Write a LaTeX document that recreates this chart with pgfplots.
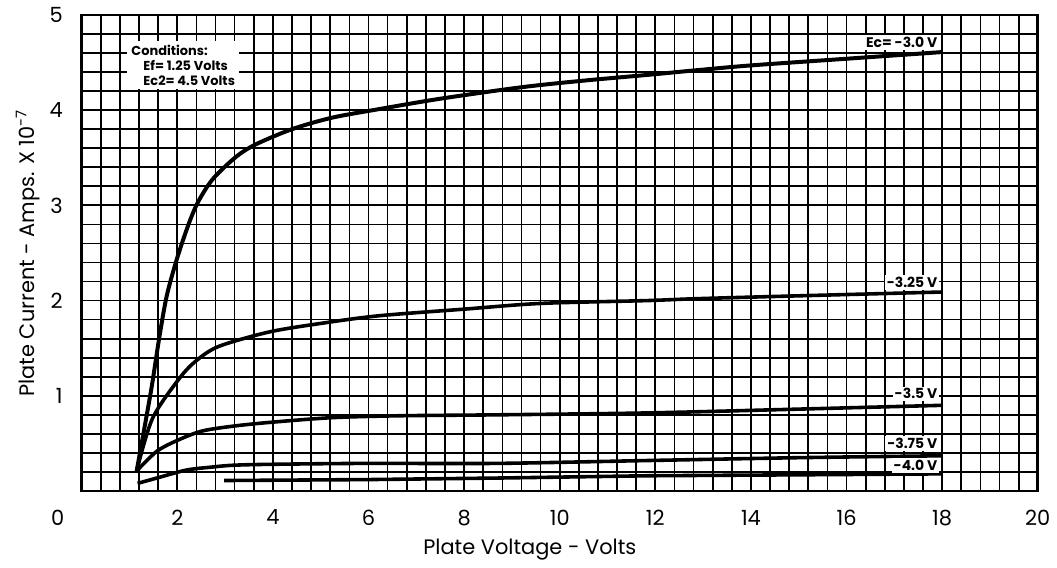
\documentclass[border=0pt]{standalone}
\usepackage{pgfplots}
\pgfplotsset{compat=1.18}
\usepackage{fontspec}
\setmainfont{Poppins}
\begin{document}
\begin{tikzpicture}
\begin{axis}[
  scale only axis, width=480pt, height=239pt,
  xmin=0, xmax=20, ymin=0, ymax=5,
  xtick={0,2,...,20}, xticklabels={,2,4,6,8,10,12,14,16,18,20},
  ytick={0,1,...,5}, yticklabels={,1,2,3,4,5},
  minor x tick num=4, minor y tick num=4,
  major tick length=0pt, minor tick length=0pt,
  grid=both,
  major grid style={black, line width=0.9pt},
  minor grid style={black, line width=0.85pt},
  axis line style={black, line width=1.3pt},
  tick label style={font=\fontsize{10.5}{12}\selectfont},
  xticklabel style={yshift=-6pt},
  yticklabel style={xshift=-6pt},
  /pgf/number format/assume math mode=true,
  xlabel={Plate Voltage - Volts},
  ylabel={Plate Current - Amps. X 10\textsuperscript{-7}},
  label style={font=\fontsize{10.5}{12}\selectfont},
  xlabel style={yshift=0pt, xshift=-15pt},
  ylabel style={yshift=-2pt},
  clip=false,
]
\addplot[black, line width=2pt, smooth, tension=0.5] coordinates {
 (1.15,0.21) (1.45,1.05) (1.62,1.6) (1.78,2.05) (2.0,2.45) (2.25,2.82) (2.45,3.05) (2.75,3.28) (3.23,3.51) (3.64,3.64) (4.4,3.80) (5.23,3.92) (6.21,4.01) (7.5,4.12) (9.19,4.24) (10.5,4.31) (11.83,4.37) (12.875,4.42) (14,4.47) (16,4.54) (18,4.61)
};
\addplot[black, line width=1.8pt, smooth, tension=0.5] coordinates {
 (1.15,0.21) (1.48,0.76) (2.04,1.18) (2.40,1.37) (2.875,1.52) (3.92,1.67) (5,1.76) (6.21,1.84) (8,1.91) (9.6,1.97) (11.83,2.0) (12.875,2.02) (15,2.05) (18,2.09)
};
\addplot[black, line width=1.8pt, smooth, tension=0.5] coordinates {
 (1.15,0.21) (1.58,0.42) (2.04,0.54) (2.52,0.63) (3.15,0.68) (3.92,0.72) (5.23,0.77) (6.63,0.79) (8.7,0.80) (11.83,0.82) (15,0.86) (18,0.90)
};
\addplot[black, line width=1.8pt, smooth, tension=0.5] coordinates {
 (1.17,0.08) (1.6,0.14) (2.19,0.22) (2.7,0.25) (3.15,0.27) (3.92,0.28) (5.94,0.29) (8.7,0.29) (11.83,0.32) (15,0.35) (18,0.37)
};
\addplot[black, line width=1.8pt] coordinates {
 (2.98,0.11) (6,0.12) (8.7,0.136) (11.83,0.16) (15,0.17) (18,0.18)
};
\tikzset{clab/.style={fill=white, inner sep=1pt, anchor=south east, font=\fontsize{7}{8}\selectfont\bfseries}}
\node[clab] at (axis cs:17.95,4.63) {Ec= -3.0 V};
\node[clab] at (axis cs:17.95,2.11) {-3.25 V};
\node[clab] at (axis cs:17.95,0.94) {-3.5 V};
\node[clab] at (axis cs:17.95,0.42) {-3.75 V};
\node[clab] at (axis cs:17.95,0.19) {-4.0 V};
\node[fill=white, inner sep=2pt, anchor=north west, align=left, font=\fontsize{6.5}{7.5}\selectfont\bfseries] at (axis cs:0.95,4.73) {Conditions:\\\hspace{6pt}Ef= 1.25 Volts\\\hspace{6pt}Ec2= 4.5 Volts};
\node[anchor=north, font=\fontsize{10.5}{12}\selectfont, yshift=-6pt] at (axis cs:-0.5,0) {0};
\end{axis}
\path ([xshift=-41pt,yshift=-34pt]current axis.south west) rectangle ([xshift=7.5pt,yshift=7.5pt]current axis.north east);
\end{tikzpicture}
\end{document}
